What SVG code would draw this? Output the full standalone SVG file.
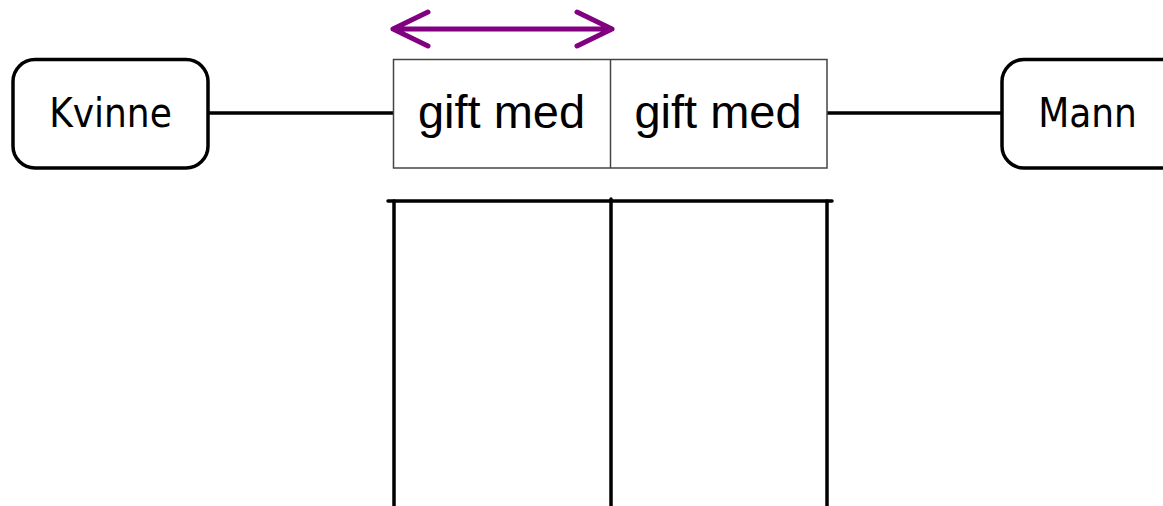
<svg xmlns="http://www.w3.org/2000/svg" width="1163" height="506" viewBox="0 0 1163 506">
<style>
.ent{fill:#fff;stroke:#000;stroke-width:3.5}
.ent-t{font-family:"DejaVu Sans Condensed","DejaVu Sans",sans-serif;font-stretch:condensed;font-size:40px;fill:#000;text-anchor:middle}
.rel{fill:#fff;stroke:#444;stroke-width:1.5}
.rel-t{font-family:"Liberation Sans",Arial,sans-serif;font-size:47px;fill:#000;text-anchor:middle}
.conn{stroke:#000;stroke-width:3.5;fill:none;stroke-linecap:round}
.arrow{stroke:#800080;stroke-width:5;fill:none;stroke-linecap:round;stroke-linejoin:round}
</style>
<rect width="1163" height="506" fill="#fff"/>
<g id="connectors">
<line class="conn" x1="208" y1="113" x2="394" y2="113"/>
<line class="conn" x1="827" y1="113" x2="1002" y2="113"/>
<line class="conn" x1="388" y1="201" x2="832" y2="201"/>
<line class="conn" x1="394" y1="201" x2="394" y2="510"/>
<line class="conn" x1="611" y1="199" x2="611" y2="510"/>
<line class="conn" x1="827" y1="201" x2="827" y2="510"/>
</g>
<g id="arrow">
<path class="arrow" d="M393 29 H612 M428 12 L393 29 L428 46 M577 12 L612 29 L577 46"/>
</g>
<g id="kvinne">
<rect class="ent" x="13" y="59.5" width="195" height="108.5" rx="22"/>
<text class="ent-t" x="110.5" y="127">Kvinne</text>
</g>
<g id="gift-med">
<rect class="rel" x="393.5" y="59.5" width="433.5" height="108.5"/>
<line x1="610.5" y1="59.5" x2="610.5" y2="168" stroke="#444" stroke-width="1.5"/>
<text class="rel-t" x="501.5" y="128">gift med</text>
<text class="rel-t" x="718" y="128">gift med</text>
</g>
<g id="mann">
<rect class="ent" x="1002" y="59.5" width="195" height="108.5" rx="22"/>
<text class="ent-t" x="1087.5" y="127">Mann</text>
</g>
</svg>
